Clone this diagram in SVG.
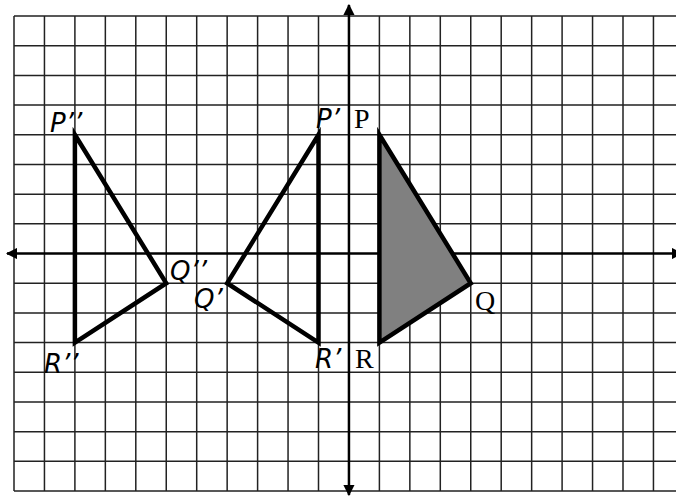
<svg xmlns="http://www.w3.org/2000/svg" width="676" height="498" viewBox="0 0 676 498">
<defs>
<style>
.grid{stroke:#222;stroke-width:1.5;fill:none}
.axis{stroke:#000;stroke-width:2.5;fill:none}
.tri{stroke:#000;stroke-width:4.5;stroke-linejoin:miter;fill:none}
.shaded{fill:#808080}
.serif{font-family:"Liberation Serif","Times New Roman",serif;font-size:28px;fill:#000}
.hand{font-family:"DejaVu Sans","Liberation Sans",sans-serif;font-style:italic;font-size:26px;fill:#000}
</style>
<marker id="ah" viewBox="0 0 10 10" refX="9" refY="5" markerWidth="4.6" markerHeight="4.6" orient="auto" markerUnits="strokeWidth">
<path d="M0,0 L10,5 L0,10 Z" fill="#000"/>
</marker>
</defs>
<rect width="676" height="498" fill="#fff"/>
<g id="grid" class="grid">
<path d="M14,16V491M44.45,16V491M74.9,16V491M105.35,16V491M135.8,16V491M166.25,16V491M196.7,16V491M227.15,16V491M257.6,16V491M288.05,16V491M318.5,16V491M379.4,16V491M409.85,16V491M440.3,16V491M470.75,16V491M501.2,16V491M531.65,16V491M562.1,16V491M592.55,16V491M623,16V491M653.45,16V491"/>
<path d="M14,16H676M14,45.69H676M14,75.38H676M14,105.07H676M14,134.76H676M14,164.45H676M14,194.14H676M14,223.83H676M14,283.21H676M14,312.9H676M14,342.59H676M14,372.28H676M14,401.97H676M14,431.66H676M14,461.35H676M14,491.04H676"/>
</g>
<g id="axes" class="axis">
<line x1="348.95" y1="254" x2="348.95" y2="5" marker-end="url(#ah)"/>
<line x1="348.95" y1="254" x2="348.95" y2="495" marker-end="url(#ah)"/>
<line x1="349" y1="253.52" x2="7" y2="253.52" marker-end="url(#ah)"/>
<line x1="349" y1="253.52" x2="682" y2="253.52" marker-end="url(#ah)"/>
</g>
<g id="triangle-PQR">
<path class="tri shaded" d="M379.4,134.76 L470.75,283.21 L379.4,342.59 Z"/>
<text class="serif" x="354" y="128">P</text>
<text class="serif" x="475" y="310">Q</text>
<text class="serif" x="355" y="368">R</text>
</g>
<g id="triangle-PQR-prime">
<path class="tri" d="M318.5,134.76 L227.15,283.21 L318.5,342.59 Z"/>
<text class="hand" x="316" y="128">P’</text>
<text class="hand" x="194" y="308">Q’</text>
<text class="hand" x="315" y="368">R’</text>
</g>
<g id="triangle-PQR-double-prime">
<path class="tri" d="M74.9,134.76 L166.25,283.21 L74.9,342.59 Z"/>
<text class="hand" x="50" y="132">P’’</text>
<text class="hand" x="170" y="280">Q’’</text>
<text class="hand" x="44" y="373">R’’</text>
</g>
</svg>
